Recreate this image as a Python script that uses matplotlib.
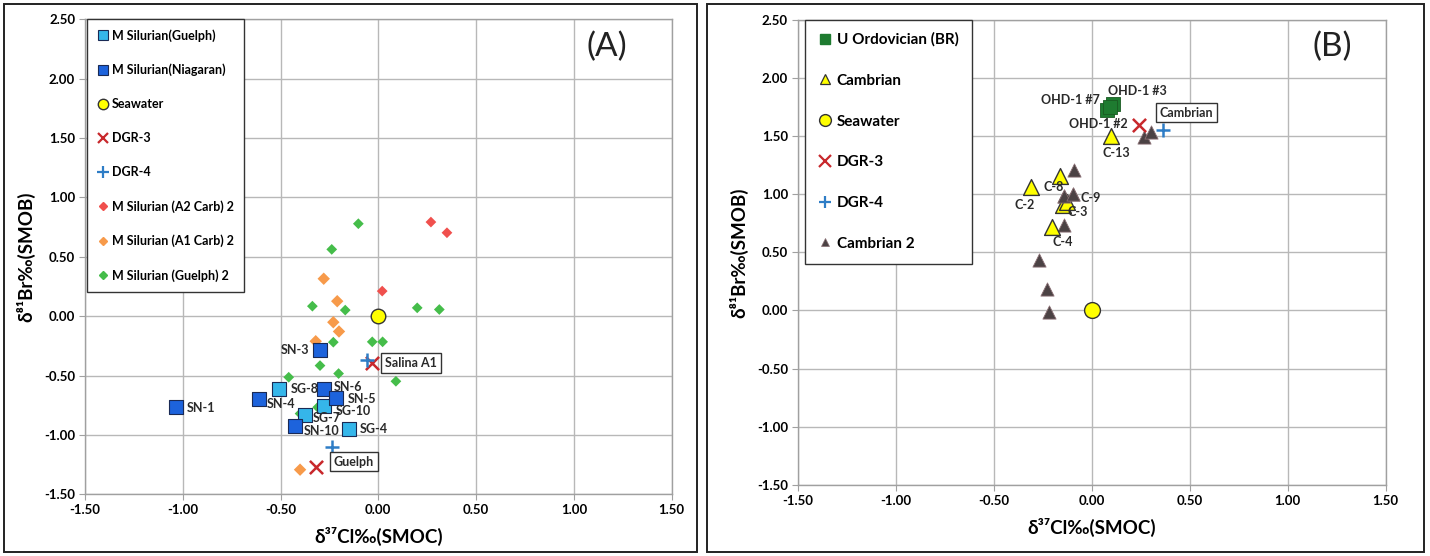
import matplotlib
matplotlib.use("Agg")
import matplotlib.pyplot as plt
from matplotlib.lines import Line2D
from matplotlib.patches import Rectangle
import numpy as np

plt.rcParams['font.family'] = ['Lato', 'DejaVu Sans']

# ---------------- Panel A data ----------------
sg_x = [-0.508, -0.278, -0.375, -0.148]
sg_y = [-0.610, -0.753, -0.829, -0.949]
sg_lab = ["SG-8", "SG-10", "SG-7", "SG-4"]

sn_x = [-0.298, -0.278, -0.216, -0.608, -1.036, -0.426]
sn_y = [-0.281, -0.612, -0.688, -0.697, -0.764, -0.921]
sn_lab = ["SN-3", "SN-6", "SN-5", "SN-4", "SN-1", "SN-10"]

sea_x = [0.0]
sea_y = [0.0]

dgr3_a_x = [-0.034, -0.319]
dgr3_a_y = [-0.393, -1.270]
dgr4_a_x = [-0.060, -0.235]
dgr4_a_y = [-0.371, -1.101]

a2_x = [0.269, 0.351, 0.020]
a2_y = [0.792, 0.702, 0.211]

a1_x = [-0.279, -0.210, -0.230, -0.201, -0.320, -0.400]
a1_y = [0.315, 0.126, -0.051, -0.129, -0.211, -1.292]

g2_x = [-0.102, -0.238, -0.337, -0.169, 0.199, 0.312, -0.230, -0.031, 0.022,
        -0.298, -0.203, -0.458, 0.090, -0.310, -0.400]
g2_y = [0.778, 0.562, 0.084, 0.051, 0.070, 0.056, -0.219, -0.216, -0.216,
        -0.416, -0.483, -0.514, -0.548, -0.767, -0.820]

# ---------------- Panel B data ----------------
ord_x = [0.077, 0.111, 0.095]
ord_y = [1.726, 1.777, 1.745]
ord_lab = ["OHD-1 #7", "OHD-1 #3", "OHD-1 #2"]

camb_x = [0.099, -0.160, -0.311, -0.148, -0.124, -0.201]
camb_y = [1.497, 1.154, 1.057, 0.906, 0.930, 0.714]
camb_lab = ["C-13", "C-8", "C-2", "C-3", "C-9", "C-4"]

dgr3_b_x = [0.240]
dgr3_b_y = [1.591]
dgr4_b_x = [0.362]
dgr4_b_y = [1.554]

camb2_x = [-0.088, -0.139, -0.097, -0.139, -0.269, -0.230, -0.219, 0.267, 0.303]
camb2_y = [1.206, 0.983, 1.000, 0.734, 0.434, 0.183, -0.009, 1.491, 1.534]

ticks_x = [-1.5, -1.0, -0.5, 0.0, 0.5, 1.0, 1.5]
ticks_y = [-1.5, -1.0, -0.5, 0.0, 0.5, 1.0, 1.5, 2.0, 2.5]

# ---------------- colours ----------------
C_SG = '#35b6ea'
C_SN = '#1d63dc'
C_EDGE = '#1a2a55'
C_YEL = '#ffff00'
C_RED = '#c8282c'
C_BLUE = '#2e7dc6'
C_A2 = '#f0504d'
C_A1 = '#f79a4a'
C_G2 = '#45bd4a'
C_ORD = '#1e7b30'
C_C2 = '#4b4244'

W, H = 1430, 556
fig = plt.figure(figsize=(W / 100, H / 100), dpi=100)

# panel frames
fig.patches.append(Rectangle((4 / W, 4 / H), 693 / W, 548 / H, transform=fig.transFigure,
                             fill=False, edgecolor='#222222', linewidth=1.4))
fig.patches.append(Rectangle((707 / W, 4 / H), 717 / W, 548 / H, transform=fig.transFigure,
                             fill=False, edgecolor='#222222', linewidth=1.4))

axA = fig.add_axes([84.9 / W, 1 - 494.4 / H, 586.8 / W, 475.3 / H])
axB = fig.add_axes([797.7 / W, 1 - 485.0 / H, 588.0 / W, 465.4 / H])


def style(ax):
    ax.set_xlim(-1.5, 1.5)
    ax.set_ylim(-1.5, 2.5)
    ax.set_xticks(ticks_x)
    ax.set_yticks(ticks_y)
    ax.set_xticklabels([f"{t:.2f}" for t in ticks_x], fontsize=9.5, fontweight='bold')
    ax.set_yticklabels([f"{t:.2f}" for t in ticks_y], fontsize=9.5, fontweight='bold')
    ax.grid(True, color='#b8b8b8', linewidth=1.0)
    ax.set_axisbelow(True)
    for s in ax.spines.values():
        s.set_color('#a0a0a0')
        s.set_linewidth(1.0)
    ax.tick_params(length=4, color='#a0a0a0', pad=3)
    ax.set_xlabel("δ³⁷Cl‰(SMOC)", fontsize=13.5, fontweight='bold', labelpad=8)
    ax.set_ylabel("δ⁸¹Br‰(SMOB)", fontsize=13.5, fontweight='bold', labelpad=6)


style(axA)
style(axB)

# ---------------- Panel A ----------------
axA.scatter(g2_x, g2_y, marker='D', s=30, color=C_G2, edgecolors='none', zorder=3)
axA.scatter(a2_x, a2_y, marker='D', s=30, color=C_A2, edgecolors='none', zorder=3)
axA.scatter(a1_x, a1_y, marker='D', s=40, color=C_A1, edgecolors='none', zorder=3)
axA.scatter(sg_x, sg_y, marker='s', s=95, color=C_SG, edgecolors=C_EDGE, linewidths=0.8, zorder=4)
axA.scatter(sn_x, sn_y, marker='s', s=95, color=C_SN, edgecolors=C_EDGE, linewidths=0.8, zorder=4)
axA.scatter(sea_x, sea_y, marker='o', s=110, color=C_YEL, edgecolors='#333333', linewidths=1.0, zorder=5)
axA.scatter(dgr3_a_x, dgr3_a_y, marker='x', s=90, color=C_RED, linewidths=1.8, zorder=5)
axA.scatter(dgr4_a_x, dgr4_a_y, marker='+', s=110, color=C_BLUE, linewidths=1.8, zorder=5)

lab_kw = dict(fontsize=9, fontweight='bold', color='#2a2a2a', zorder=6)
sg_tx = [-0.448, -0.218, -0.336, -0.094]
sg_ty = [-0.612, -0.800, -0.857, -0.949]
for x, y, t in zip(sg_tx, sg_ty, sg_lab):
    axA.text(x, y, t, ha='left', va='center', **lab_kw)
sn_tx = [-0.353, -0.230, -0.158, -0.571, -0.980, -0.380]
sn_ty = [-0.284, -0.598, -0.694, -0.739, -0.770, -0.963]
for x, y, t in zip(sn_tx, sn_ty, sn_lab):
    axA.text(x, y, t, ha='right' if t == 'SN-3' else 'left', va='center', **lab_kw)

box_kw = dict(boxstyle='square,pad=0.3', facecolor='white', edgecolor='#333333', linewidth=1.0)
axA.text(0.035, -0.396, "Salina A1", ha='left', va='center', fontsize=9, fontweight='bold',
         color='#2a2a2a', bbox=box_kw, zorder=7)
axA.text(-0.228, -1.225, "Guelph", ha='left', va='center', fontsize=9, fontweight='bold',
         color='#2a2a2a', bbox=box_kw, zorder=7)

axA.text(1.17, 2.264, "(A)", fontsize=24, ha='center', va='center', color='#222222')

handlesA = [
    Line2D([], [], marker='s', ls='', ms=7, mfc=C_SG, mec=C_EDGE, mew=0.8),
    Line2D([], [], marker='s', ls='', ms=7, mfc=C_SN, mec=C_EDGE, mew=0.8),
    Line2D([], [], marker='o', ls='', ms=7.5, mfc=C_YEL, mec='#333333', mew=1.0),
    Line2D([], [], marker='x', ls='', ms=7, color=C_RED, mew=1.6),
    Line2D([], [], marker='+', ls='', ms=8, color=C_BLUE, mew=1.6),
    Line2D([], [], marker='D', ls='', ms=4.5, color=C_A2),
    Line2D([], [], marker='D', ls='', ms=4.5, color=C_A1),
    Line2D([], [], marker='D', ls='', ms=4.5, color=C_G2),
]
labelsA = ["M Silurian(Guelph)", "M Silurian(Niagaran)", "Seawater", "DGR-3", "DGR-4",
           "M Silurian (A2 Carb) 2", "M Silurian (A1 Carb) 2", "M Silurian (Guelph) 2"]
legA = axA.legend(handlesA, labelsA, loc='upper left', bbox_to_anchor=(0.004, 1.0),
                  borderaxespad=0, frameon=True, fancybox=False, framealpha=1,
                  edgecolor='#333333', prop=dict(size=9, weight='bold'),
                  labelspacing=1.75, handlelength=0.9, handletextpad=0.3,
                  borderpad=0.8)
legA.get_frame().set_linewidth(1.0)

# ---------------- Panel B ----------------
axB.scatter(camb2_x, camb2_y, marker='^', s=90, color=C_C2, edgecolors='#8a6f74', linewidths=0.6, zorder=3)
axB.scatter(camb_x, camb_y, marker='^', s=130, color=C_YEL, edgecolors='#333333', linewidths=1.0, zorder=4)
axB.scatter(camb2_x[1:3], camb2_y[1:3], marker='^', s=90, color=C_C2, edgecolors='#8a6f74',
            linewidths=0.6, zorder=4.5)
axB.scatter(ord_x, ord_y, marker='s', s=110, color=C_ORD, edgecolors='#1a5a22', linewidths=0.6, zorder=4)
axB.scatter(sea_x, sea_y, marker='o', s=130, color=C_YEL, edgecolors='#333333', linewidths=1.0, zorder=5)
axB.scatter(dgr3_b_x, dgr3_b_y, marker='x', s=90, color=C_RED, linewidths=1.8, zorder=5)
axB.scatter(dgr4_b_x, dgr4_b_y, marker='+', s=110, color=C_BLUE, linewidths=1.8, zorder=5)

ord_tx = [0.040, 0.085, 0.034]
ord_ty = [1.806, 1.890, 1.606]
ord_ha = ['right', 'left', 'center']
for x, y, t, ha in zip(ord_tx, ord_ty, ord_lab, ord_ha):
    axB.text(x, y, t, ha=ha, va='center', **lab_kw)
camb_tx = [0.128, -0.196, -0.340, -0.071, -0.005, -0.150]
camb_ty = [1.350, 1.063, 0.906, 0.849, 0.963, 0.590]
for x, y, t in zip(camb_tx, camb_ty, camb_lab):
    axB.text(x, y, t, ha='center', va='center', **lab_kw)
axB.text(0.345, 1.70, "Cambrian", ha='left', va='center', fontsize=9, fontweight='bold',
         color='#2a2a2a', bbox=box_kw, zorder=7)

axB.text(1.226, 2.265, "(B)", fontsize=24, ha='center', va='center', color='#222222')

handlesB = [
    Line2D([], [], marker='s', ls='', ms=7.5, mfc=C_ORD, mec=C_ORD),
    Line2D([], [], marker='^', ls='', ms=7.5, mfc=C_YEL, mec='#333333', mew=0.9),
    Line2D([], [], marker='o', ls='', ms=8.5, mfc=C_YEL, mec='#333333', mew=1.0),
    Line2D([], [], marker='x', ls='', ms=8, color=C_RED, mew=1.6),
    Line2D([], [], marker='+', ls='', ms=8, color=C_BLUE, mew=1.6),
    Line2D([], [], marker='^', ls='', ms=6, mfc=C_C2, mec='#8a6f74', mew=0.5),
]
labelsB = ["U Ordovician (BR)", "Cambrian", "Seawater", "DGR-3", "DGR-4", "Cambrian 2"]
legB = axB.legend(handlesB, labelsB, loc='upper left', bbox_to_anchor=(0.013, 1.0),
                  borderaxespad=0, frameon=True, fancybox=False, framealpha=1,
                  edgecolor='#333333', prop=dict(size=11, weight='bold'),
                  labelspacing=1.75, handlelength=0.9, handletextpad=0.3,
                  borderpad=0.85)
legB.get_frame().set_linewidth(1.0)

fig.savefig("out.png", dpi=100)
